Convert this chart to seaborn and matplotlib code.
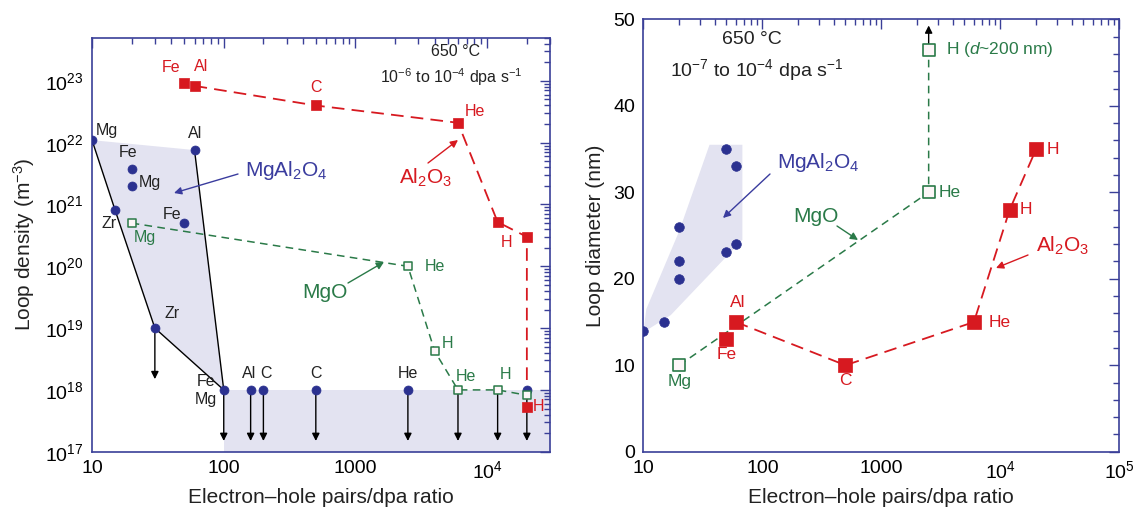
import numpy as np
import pandas as pd
import matplotlib
matplotlib.use("Agg")
import matplotlib.pyplot as plt
import seaborn as sns
from matplotlib.ticker import LogLocator, NullFormatter, MultipleLocator

# ---------------- data: left panel (loop density) ----------------
al2o3_L_lbl = ["Fe", "Al", "C", "He", "H", "", "H"]
al2o3_L_x = [50, 60, 500, 6000, 12000, 20000, 20000]
al2o3_L_y = [9.3e22, 8.3e22, 4.0e22, 2.1e22, 5.2e20, 3.0e20, 5.3e17]

mgo_L_lbl = ["Mg", "He", "H", "He", "H", ""]
mgo_L_x = [20, 2500, 4000, 6000, 12000, 20000]
mgo_L_y = [5.0e20, 1.0e20, 4.2e18, 1.0e18, 1.0e18, 8.2e17]
mgo_L_upper = [0, 0, 0, 1, 1, 0]

spinel_L_lbl = ["Mg", "Fe", "Mg", "Al", "Fe", "Zr", "Zr", "Fe\nMg", "Al", "C", "C", "He", ""]
spinel_L_x = [10, 20, 20, 60, 50, 15, 30, 100, 160, 200, 500, 2500, 20000]
spinel_L_y = [1.1e22, 3.8e21, 2.0e21, 7.6e21, 5.1e20, 8.0e20, 1.0e19,
              1e18, 1e18, 1e18, 1e18, 1e18, 1e18]
spinel_L_upper = [0, 0, 0, 0, 0, 0, 1, 1, 1, 1, 1, 1, 1]
# envelope of MgAl2O4 points (indices into spinel arrays)
spinel_L_edge1 = [0, 5, 6, 7]
spinel_L_edge2 = [3, 7]
spinel_L_region = [0, 3, 7, 6, 5]

yticks_L = [1e17, 1e18, 1e19, 1e20, 1e21, 1e22, 1e23]

# ---------------- data: right panel (loop diameter) ----------------
spinel_R_x = [10, 15, 20, 20, 20, 50, 60, 50, 60]
spinel_R_y = [14, 15, 20, 22, 26, 23.1, 24, 35, 33]
spinel_R_shade_x = [10, 10.6, 20, 36, 68, 68, 17, 10]
spinel_R_shade_y = [13.8, 16.5, 25.5, 35.5, 35.5, 24.5, 15.8, 13.8]

mgo_R_lbl = ["Mg", "He", "H ($d$~200 nm)"]
mgo_R_x = [20, 2500, 2500]
mgo_R_y = [10, 30, 46.5]

al2o3_R_lbl = ["Fe", "Al", "C", "He", "H", "H"]
al2o3_R_x = [50, 60, 500, 6000, 12000, 20000]
al2o3_R_y = [13, 15, 10, 15, 28, 35]

# ---------------- style ----------------
sns.set_theme(style="white")
plt.rcParams["font.family"] = ["Liberation Sans", "DejaVu Sans"]
plt.rcParams["mathtext.fontset"] = "custom"
plt.rcParams["mathtext.rm"] = "Liberation Sans"
plt.rcParams["mathtext.it"] = "Liberation Sans:italic"
plt.rcParams["mathtext.sf"] = "Liberation Sans"
plt.rcParams["mathtext.bf"] = "Liberation Sans:bold"

RED = "#d71920"
GREEN = "#2a7a48"
BLUE = "#2b3190"
BLUE_T = "#3a3c9e"
SPINE = "#3a3f98"
SHADE = "#e3e3f1"
TXT = "#222222"

W, H = 1136, 508
fig = plt.figure(figsize=(W / 100, H / 100), dpi=100)
axL = fig.add_axes([0.081, 0.1108, 0.4032, 0.815])
axR = fig.add_axes([0.5663, 0.1108, 0.419, 0.851])


def fpx(px, py):
    return (px / W, 1 - py / H)


def style_axes(ax):
    for s in ax.spines.values():
        s.set_color(SPINE)
        s.set_linewidth(1.2)
    ax.tick_params(which="both", direction="in", color=SPINE, labelcolor="black",
                   top=True, right=True, labelsize=14, width=1.0)
    ax.tick_params(which="major", length=7, pad=6)
    ax.tick_params(which="minor", length=4)


def label_points(ax, xs, ys, labels, offs, color, size, ha="center"):
    for x, y, t, (dx, dy) in zip(xs, ys, labels, offs):
        if not t:
            continue
        ax.annotate(t, (x, y), xytext=(dx * 0.72, dy * 0.72), textcoords="offset points",
                    ha=ha, va="center", color=color, fontsize=size, linespacing=1.25,
                    zorder=6)


def down_arrows(ax, xs, ys, flags, factor=6.7):
    for x, y, f in zip(xs, ys, flags):
        if f:
            ax.annotate("", xy=(x, y / factor), xytext=(x, y), zorder=2,
                        arrowprops=dict(arrowstyle="-|>", color="black", lw=1.0,
                                        mutation_scale=11, shrinkA=0, shrinkB=0))


def dashed_line(ax, xs, ys, color, lw, dashes):
    n = len(ax.lines)
    sns.lineplot(x=xs, y=ys, ax=ax, sort=False, estimator=None, color=color, lw=lw, zorder=3)
    for ln in ax.lines[n:]:
        ln.set_dashes(dashes)


def series_note(ax, text, text_px, tail_px, tip_px, color):
    ax.annotate(text, xy=fpx(*text_px), xycoords="figure fraction", color=color,
                fontsize=15, ha="center", va="center", zorder=6)
    ax.annotate("", xy=fpx(*tip_px), xycoords="figure fraction",
                xytext=fpx(*tail_px), textcoords="figure fraction", zorder=6,
                arrowprops=dict(arrowstyle="-|>", color=color, lw=1.0, mutation_scale=11,
                                shrinkA=0, shrinkB=0))


# ================= LEFT PANEL =================
ax = axL
ax.set_xscale("log")
ax.set_yscale("log")
ax.set_xlim(10, 3e4)
ax.set_ylim(1e17, 5e23)

# shaded MgAl2O4 region
ax.fill([spinel_L_x[i] for i in spinel_L_region], [spinel_L_y[i] for i in spinel_L_region],
        color=SHADE, lw=0, zorder=0)
ax.fill_between([spinel_L_x[7], 3e4], 1e17, spinel_L_y[7], color=SHADE, lw=0, zorder=0)

# black boundary lines
for edge in (spinel_L_edge1, spinel_L_edge2):
    sns.lineplot(x=[spinel_L_x[i] for i in edge], y=[spinel_L_y[i] for i in edge], ax=ax,
                 sort=False, estimator=None, color="black", lw=1.0, zorder=2)

# upper-limit arrows
down_arrows(ax, spinel_L_x, spinel_L_y, spinel_L_upper)
down_arrows(ax, mgo_L_x, mgo_L_y, mgo_L_upper)

# series lines
dashed_line(ax, al2o3_L_x[1:], al2o3_L_y[1:], RED, 1.3, (7, 4))
dashed_line(ax, mgo_L_x, mgo_L_y, GREEN, 1.1, (5, 3.5))

# markers
sns.scatterplot(x=spinel_L_x, y=spinel_L_y, ax=ax, marker="o", s=42, color=BLUE,
                edgecolor=BLUE, linewidth=0.5, zorder=4)
sns.scatterplot(x=mgo_L_x, y=mgo_L_y, ax=ax, marker="s", s=38, color="#fdf6f8",
                edgecolor=GREEN, linewidth=1.1, zorder=5)
sns.scatterplot(x=al2o3_L_x, y=al2o3_L_y, ax=ax, marker="s", s=48, color=RED,
                edgecolor=RED, linewidth=0.5, zorder=5)

# point labels
label_points(ax, al2o3_L_x, al2o3_L_y, al2o3_L_lbl,
             [(-13, 15), (7, 19), (0, 18), (17, 11), (9, -20), (0, 0), (12, 0)], RED, 11.5)
label_points(ax, mgo_L_x, mgo_L_y, mgo_L_lbl,
             [(13, -14), (27, 0), (13, 8), (8, 13), (8, 15), (0, 0)], GREEN, 11.5)
label_points(ax, spinel_L_x, spinel_L_y, spinel_L_lbl,
             [(15, 10), (-4, 16), (18, 3), (1, 17), (-12, 8), (-6, -13), (17, 15),
              (-18, -1), (-2, 16), (3, 16), (0, 16), (0, 16), (0, 0)], TXT, 11.5)

# series annotations
series_note(ax, "MgAl$_2$O$_4$", (286, 170), (238, 174), (174, 193), BLUE_T)
series_note(ax, "Al$_2$O$_3$", (426, 178), (428, 163), (458, 140), RED)
series_note(ax, "MgO", (325, 293), (348, 283), (384, 262), GREEN)

fig.text(*fpx(456, 52), "650 °C", fontsize=11.5, color=TXT, ha="center", va="center")
fig.text(*fpx(451, 77), "$10^{-6}$ to $10^{-4}$ dpa s$^{-1}$", fontsize=11.5, color=TXT,
         ha="center", va="center")

style_axes(ax)
ax.set_xticks([10, 100, 1000, 1e4], ["10", "100", "1000", "$10^4$"])
ax.xaxis.set_minor_locator(LogLocator(base=10, subs=np.arange(2, 10), numticks=100))
ax.xaxis.set_minor_formatter(NullFormatter())
ax.set_yticks(yticks_L, [f"$10^{{{int(np.log10(v))}}}$" for v in yticks_L])
ax.yaxis.set_minor_locator(LogLocator(base=10, subs=np.arange(2, 10), numticks=100))
ax.yaxis.set_minor_formatter(NullFormatter())
ax.set_ylim(1e17, 5e23)
ax.set_xlabel("Electron–hole pairs/dpa ratio", fontsize=15, color=TXT, labelpad=4)
ax.set_ylabel("Loop density (m$^{-3}$)", fontsize=15, color=TXT, labelpad=6)

# ================= RIGHT PANEL =================
ax = axR
ax.set_xscale("log")
ax.set_xlim(10, 1e5)
ax.set_ylim(0, 50)

ax.fill(spinel_R_shade_x, spinel_R_shade_y, color=SHADE, lw=0, zorder=0)

dashed_line(ax, mgo_R_x, mgo_R_y, GREEN, 1.1, (5, 3.5))
dashed_line(ax, al2o3_R_x[1:], al2o3_R_y[1:], RED, 1.3, (7, 4))

ax.annotate("", xy=(mgo_R_x[2], 49.3), xytext=(mgo_R_x[2], mgo_R_y[2]), zorder=2,
            arrowprops=dict(arrowstyle="-|>", color="black", lw=1.0, mutation_scale=11,
                            shrinkA=0, shrinkB=0))

sns.scatterplot(x=spinel_R_x, y=spinel_R_y, ax=ax, marker="o", s=48, color=BLUE,
                edgecolor=BLUE, linewidth=0.5, zorder=4)
sns.scatterplot(x=mgo_R_x, y=mgo_R_y, ax=ax, marker="s", s=70, color="#fdf6f8",
                edgecolor=GREEN, linewidth=1.2, zorder=5)
sns.scatterplot(x=al2o3_R_x, y=al2o3_R_y, ax=ax, marker="s", s=95, color=RED,
                edgecolor=RED, linewidth=0.5, zorder=5)

label_points(ax, al2o3_R_x[:3], al2o3_R_y[:3], al2o3_R_lbl[:3],
             [(0, -15), (2, 20), (0, -15)], RED, 12.5)
label_points(ax, al2o3_R_x[3:], al2o3_R_y[3:], al2o3_R_lbl[3:],
             [(15, 0), (10, 0), (10, 0)], RED, 12.5, ha="left")
label_points(ax, mgo_R_x[:1], mgo_R_y[:1], mgo_R_lbl[:1], [(0, -16)], GREEN, 12.5)
label_points(ax, mgo_R_x[1:], mgo_R_y[1:], mgo_R_lbl[1:], [(10, 0), (17, 0)], GREEN, 12.5,
             ha="left")

series_note(ax, "MgAl$_2$O$_4$", (818, 163), (770, 174), (723, 218), BLUE_T)
series_note(ax, "MgO", (816, 216), (837, 226), (858, 240), GREEN)
series_note(ax, "Al$_2$O$_3$", (1063, 246), (1028, 255), (996, 268), RED)

fig.text(*fpx(752, 40), "650 °C", fontsize=14, color=TXT, ha="center", va="center")
fig.text(*fpx(757, 70), "$10^{-7}$ to $10^{-4}$ dpa s$^{-1}$", fontsize=14, color=TXT,
         ha="center", va="center")

style_axes(ax)
ax.set_xticks([10, 100, 1000, 1e4, 1e5], ["10", "100", "1000", "$10^4$", "$10^5$"])
ax.xaxis.set_minor_locator(LogLocator(base=10, subs=np.arange(2, 10), numticks=100))
ax.xaxis.set_minor_formatter(NullFormatter())
ax.set_xlim(10, 1e5)
ax.yaxis.set_major_locator(MultipleLocator(10))
ax.yaxis.set_minor_locator(MultipleLocator(2))
ax.set_xlabel("Electron–hole pairs/dpa ratio", fontsize=15, color=TXT, labelpad=4)
ax.set_ylabel("Loop diameter (nm)", fontsize=15, color=TXT, labelpad=6)

fig.savefig("out.png", dpi=100)
